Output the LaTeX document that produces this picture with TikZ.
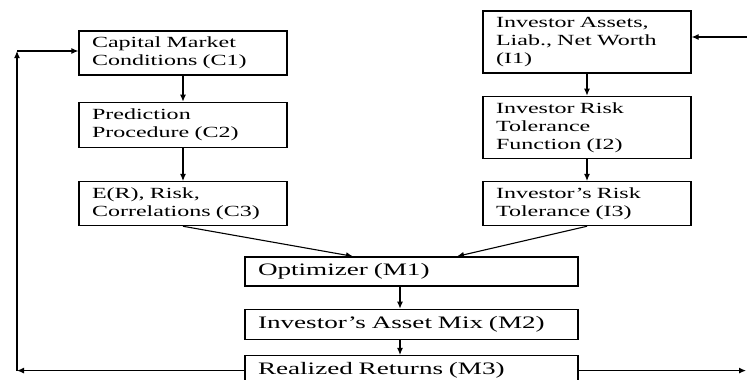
\documentclass[tikz,border=0pt]{standalone}
\usepackage{fontspec}
\setmainfont{Liberation Serif}[FakeStretch=1.55]
\usetikzlibrary{positioning, arrows.meta}
\tikzset{
	blk/.style={draw, line width=1.3pt, inner xsep=13pt, inner ysep=0pt,
		text width=182pt, align=left, font=\fontsize{15.5}{18}\selectfont}
}
\tikzset{
	mixblk/.style={draw, line width=1.3pt, inner xsep=13pt, inner ysep=0pt,
		text width=307pt, align=left, minimum height=30pt,
		font=\fontsize{17.5}{20}\selectfont}
}
\tikzset{
	flow/.style={-{Latex[length=7pt,width=6pt]}, line width=1.1pt}
}

\begin{document}
\begin{tikzpicture}[x=1pt, y=-1pt]
      \useasboundingbox (0,0) rectangle (747,380);
      \clip (0,0) rectangle (747,380);
      % capital market side
      \node[blk, minimum height=44pt] (c1) at (183,53) {Capital Market\\Conditions (C1)};
      \node[blk, minimum height=45pt, below=26pt of c1] (c2) {Prediction\\Procedure (C2)};
      \node[blk, minimum height=44pt, below=33pt of c2] (c3) {E(R), Risk,\\Correlations (C3)};
      % investor side
      \node[blk, minimum height=62pt] (i1) at (587,42) {Investor Assets,\\Liab., Net Worth\\(I1)};
      \node[blk, minimum height=62pt, below=22pt of i1] (i2) {Investor Risk\\Tolerance\\Function (I2)};
      \node[blk, minimum height=44pt, below=22pt of i2] (i3) {Investor’s Risk\\Tolerance (I3)};
      % merged chain
      \node[mixblk, minimum height=29pt] (m1) at (411.5,271.5) {Optimizer (M1)};
      \node[mixblk, below=22pt of m1] (m2) {Investor’s Asset Mix (M2)};
      \node[mixblk, below=15pt of m2] (m3) {Realized Returns (M3)};
      \draw[flow] (c1) -- (c2);
      \draw[flow] (c2) -- (c3);
      \draw[flow] (i1) -- (i2);
      \draw[flow] (i2) -- (i3);
      \draw[flow] (c3.south) -- ([xshift=-58.5pt]m1.north);
      \draw[flow] (i3.south) -- ([xshift=45.5pt]m1.north);
      \draw[flow] ([xshift=-11.5pt]m1.south) -- ([xshift=-11.5pt]m2.north);
      \draw[flow] ([xshift=-11.5pt]m2.south) -- ([xshift=-11.5pt]m3.north);
      % feedback loops, left and right
      \coordinate (fbl) at (17,367);
      \coordinate (fbtop) at (17,51);
      \coordinate (fbr) at (746,367);
      \coordinate (fbin) at (747,37);
      \draw[flow] (m3.west) -- (fbl |- m3.west);
      \draw[flow] (fbl |- m3.west) -- (fbtop);
      \draw[flow] (fbtop) -- (fbtop -| c1.west);
      \draw[flow] (m3.east) -- (fbr |- m3.east);
      \draw[flow] (fbin) -- (fbin -| i1.east);
\end{tikzpicture}
\end{document}
